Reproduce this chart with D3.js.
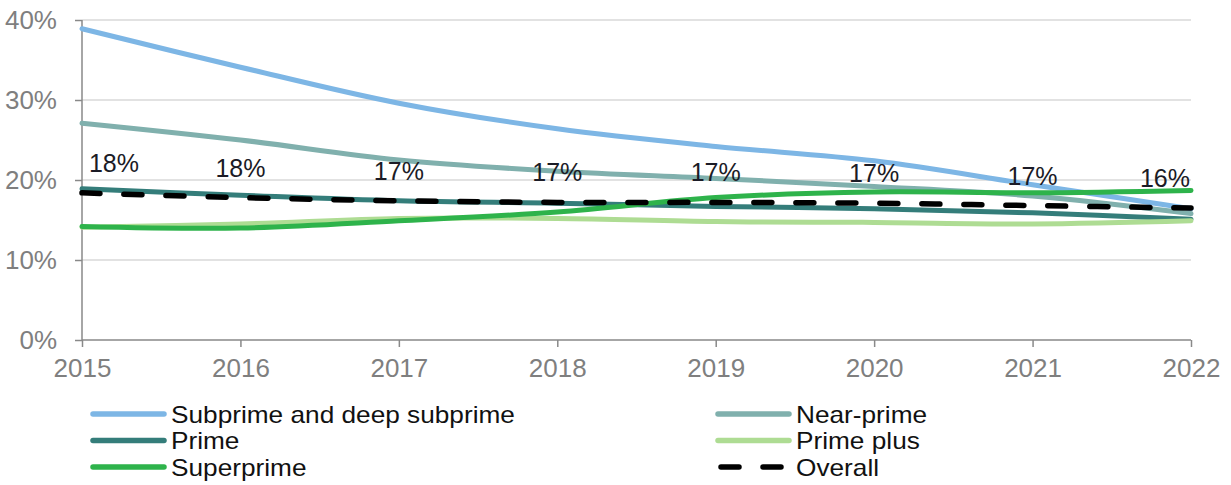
<!DOCTYPE html>
<html><head><meta charset="utf-8">
<script src="https://cdn.jsdelivr.net/npm/d3@7"></script>
<style>body{margin:0;background:#fff}svg{display:block}</style>
</head><body>
<svg id="c" width="1231" height="485"></svg>
<script>
const years = [2015, 2016, 2017, 2018, 2019, 2020, 2021, 2022];
const subprime = [38.9, 34.1, 29.6, 26.4, 24.2, 22.4, 19.4, 16.4];
const nearPrime = [27.1, 25.0, 22.5, 21.1, 20.2, 19.2, 18.0, 15.8];
const prime = [18.9, 18.1, 17.4, 17.1, 16.7, 16.4, 15.9, 15.1];
const primePlus = [14.1, 14.5, 15.2, 15.2, 14.8, 14.7, 14.5, 14.9];
const superprime = [14.2, 14.0, 14.9, 16.0, 17.8, 18.5, 18.4, 18.7];
const overall = [18.4, 17.8, 17.4, 17.2, 17.2, 17.1, 16.8, 16.5];
const overallLabels = ["18%", "18%", "17%", "17%", "17%", "17%", "17%", "16%"];
const yTicks = [0, 10, 20, 30, 40];

const series = [
  {name: "Subprime and deep subprime", values: subprime, color: "#7db6e5"},
  {name: "Near-prime", values: nearPrime, color: "#80b0ad"},
  {name: "Prime", values: prime, color: "#347d7a"},
  {name: "Prime plus", values: primePlus, color: "#aedc93"},
  {name: "Superprime", values: superprime, color: "#2eb34b"},
  {name: "Overall", values: overall, color: "#000", dash: true}
];

const svg = d3.select("#c");
const font = "'Liberation Sans', Arial, sans-serif";
const x = d3.scaleLinear().domain([2015, 2022]).range([82, 1191]);
const y = d3.scaleLinear().domain([0, 40]).range([340, 20]);

// gridlines
svg.append("g").selectAll("line").data(yTicks.filter(d => d > 0)).join("line")
  .attr("x1", 82).attr("x2", 1191).attr("y1", d => y(d)).attr("y2", d => y(d))
  .attr("stroke", "#d9d9d9").attr("stroke-width", 1.3);

// y axis
const ya = svg.append("g").attr("transform", "translate(82,0)")
  .call(d3.axisLeft(y).tickValues(yTicks).tickFormat(d => d + "%").tickSize(7).tickPadding(18));
ya.select(".domain").attr("stroke", "#898989").attr("stroke-width", 1.5).attr("d", "M0,20V340");
ya.selectAll(".tick line").attr("stroke", "#898989").attr("stroke-width", 1.5);
ya.selectAll(".tick text").attr("font-family", font).attr("font-size", 26).attr("fill", "#7f7f7f");

// x axis
const xa = svg.append("g").attr("transform", "translate(0,340)")
  .call(d3.axisBottom(x).tickValues(years).tickFormat(d3.format("d")).tickSize(7).tickPadding(12));
xa.select(".domain").attr("stroke", "#898989").attr("stroke-width", 1.5).attr("d", "M82,0H1191");
xa.selectAll(".tick line").attr("stroke", "#898989").attr("stroke-width", 1.5);
xa.selectAll(".tick text").attr("font-family", font).attr("font-size", 26).attr("fill", "#7f7f7f");

const line = d3.line().x((d, i) => x(years[i])).y(d => y(d)).curve(d3.curveCatmullRom.alpha(0.5));

series.forEach(s => {
  const p = svg.append("path").datum(s.values).attr("d", line)
    .attr("fill", "none").attr("stroke", s.color).attr("stroke-width", 5)
    .attr("stroke-linecap", "round").attr("stroke-linejoin", "round");
  if (s.dash) p.attr("stroke-dasharray", "18,24").attr("stroke-width", 5.5);
});

// data labels for overall
svg.append("g").selectAll("text").data(overall).join("text")
  .attr("x", (d, i) => Math.min(Math.max(x(years[i]), 114), 1165))
  .attr("y", d => y(d) - 21)
  .attr("text-anchor", "middle")
  .attr("font-family", font).attr("font-size", 25).attr("fill", "#1b1b26")
  .text((d, i) => overallLabels[i]);

// legend
const legX = [93, 718];
series.forEach((s, i) => {
  const col = i % 2, row = Math.floor(i / 2);
  const lx = legX[col], ly = 414 + row * 26.5;
  const g = svg.append("g");
  const l = g.append("line").attr("x1", lx).attr("x2", lx + 71).attr("y1", ly).attr("y2", ly)
    .attr("stroke", s.color).attr("stroke-width", 5.5).attr("stroke-linecap", "round");
  if (s.dash) l.attr("stroke-dasharray", "18,24").attr("x1", lx + 3);
  g.append("text").attr("transform", `translate(${lx + 78},${ly + 8.5}) scale(1.14,1)`)
    .attr("font-family", font).attr("font-size", 23).attr("fill", "#111")
    .text(s.name);
});
</script>
</body></html>
